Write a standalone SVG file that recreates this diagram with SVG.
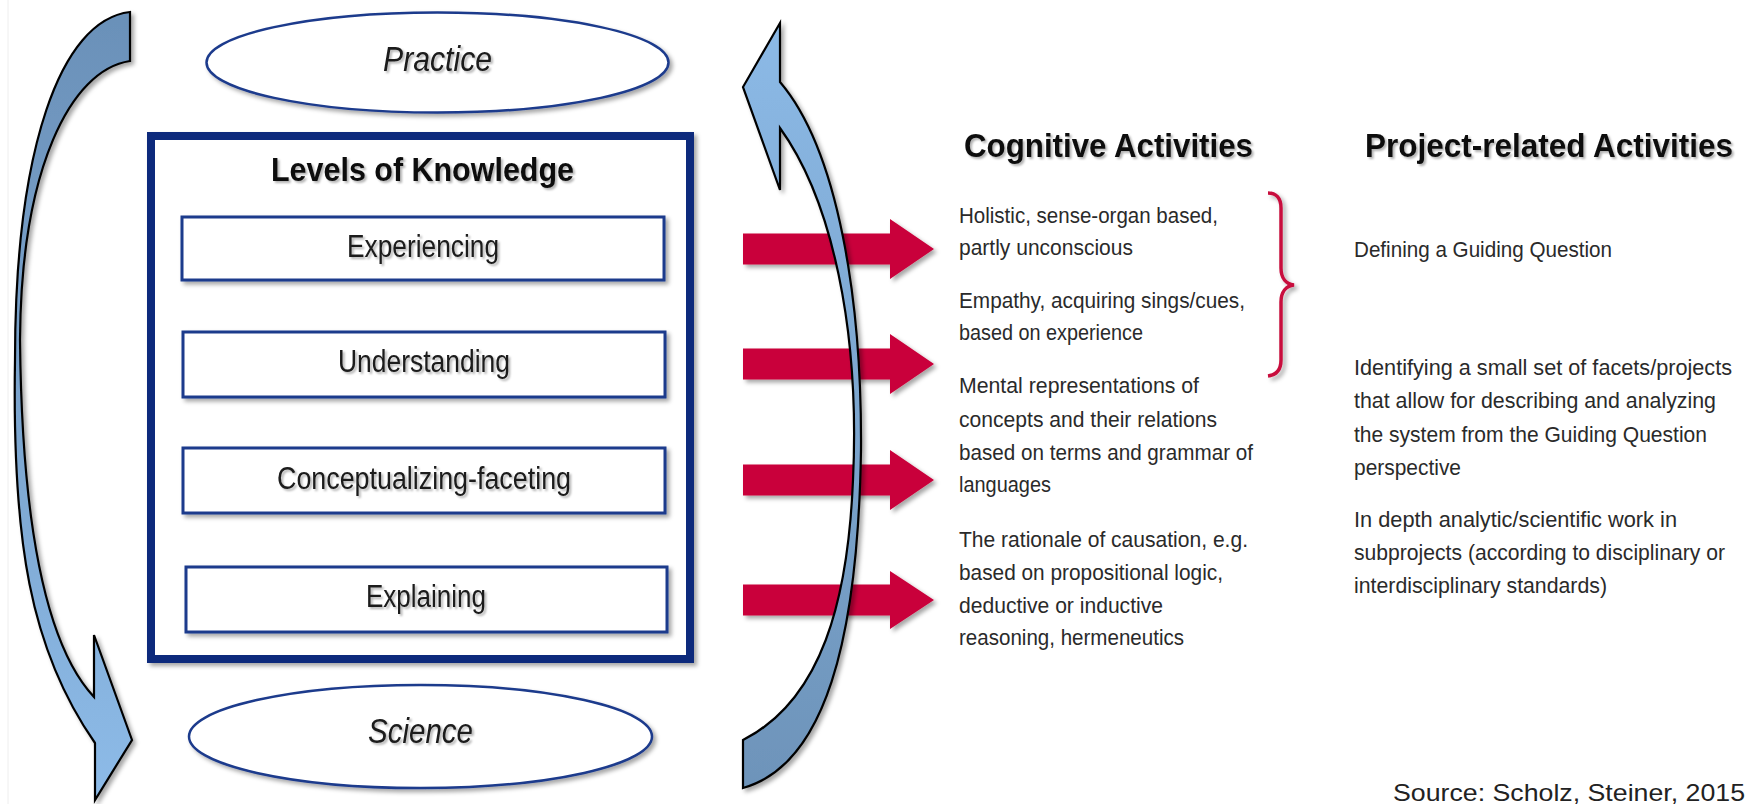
<svg xmlns="http://www.w3.org/2000/svg" width="1750" height="804" viewBox="0 0 1750 804">
<defs>
<style>
.c{font-family:'Liberation Sans Narrow','Liberation Sans',Arial,sans-serif;}
.h{font-weight:bold;font-size:32.5px;fill:#111;}
.lbl{font-size:31px;fill:#1a1a1a;}
.it{font-style:italic;font-size:35px;fill:#1a1a1a;}
.t{font-size:22.5px;fill:#2a2a2a;}
.box{fill:#fff;stroke:#1c3a8c;stroke-width:3;}
.ell{fill:#fff;stroke:#1c3a8c;stroke-width:2.5;}
.red{fill:#c9003a;}
.arc{stroke:#000;stroke-width:2.2;stroke-linejoin:miter;}
.src{font-family:'Liberation Sans',Arial,sans-serif;font-size:24px;fill:#222;}
</style>
<filter id="sh" x="-10%" y="-10%" width="130%" height="130%"><feDropShadow dx="3" dy="3" stdDeviation="2" flood-color="#000" flood-opacity="0.35"/></filter>
<filter id="tsh" x="-5%" y="-20%" width="115%" height="150%"><feDropShadow dx="2" dy="2" stdDeviation="1.2" flood-color="#000" flood-opacity="0.3"/></filter>
<linearGradient id="gl" gradientUnits="userSpaceOnUse" x1="0" y1="0" x2="0" y2="800"><stop offset="0" stop-color="#6a90b8"/><stop offset="0.5" stop-color="#7ba4cd"/><stop offset="1" stop-color="#8dbbe8"/></linearGradient>
<linearGradient id="gr" gradientUnits="userSpaceOnUse" x1="0" y1="800" x2="0" y2="0"><stop offset="0" stop-color="#6d93b9"/><stop offset="0.5" stop-color="#7ca6cf"/><stop offset="1" stop-color="#8dbbe8"/></linearGradient>
</defs>
<rect x="0" y="0" width="1750" height="804" fill="#fff"/>
<line x1="8" y1="0" x2="8" y2="804" stroke="#eeeeee" stroke-width="1"/>

<g id="practice">
<ellipse class="ell" cx="437.5" cy="62.5" rx="231" ry="50" filter="url(#sh)"/>
<text class="c it" x="383" y="71" textLength="109" lengthAdjust="spacingAndGlyphs" filter="url(#tsh)">Practice</text>
</g>

<g id="levels">
<rect x="151" y="136" width="539" height="523" fill="#fff" stroke="#0b2c7c" stroke-width="8" filter="url(#sh)"/>
<text class="c h" x="271" y="181" textLength="303" lengthAdjust="spacingAndGlyphs" filter="url(#tsh)" style="font-size:34px">Levels of Knowledge</text>
</g>
<g id="experiencing">
<rect class="box" x="182" y="217" width="482" height="63" filter="url(#sh)"/>
<text class="c lbl" x="347" y="257" textLength="152" lengthAdjust="spacingAndGlyphs" filter="url(#tsh)">Experiencing</text>
</g>
<g id="understanding">
<rect class="box" x="183" y="332" width="482" height="65" filter="url(#sh)"/>
<text class="c lbl" x="338" y="372" textLength="172" lengthAdjust="spacingAndGlyphs" filter="url(#tsh)">Understanding</text>
</g>
<g id="conceptualizing">
<rect class="box" x="183" y="448" width="482" height="65" filter="url(#sh)"/>
<text class="c lbl" x="277" y="489" textLength="294" lengthAdjust="spacingAndGlyphs" filter="url(#tsh)">Conceptualizing-faceting</text>
</g>
<g id="explaining">
<rect class="box" x="186" y="567" width="481" height="65" filter="url(#sh)"/>
<text class="c lbl" x="366" y="607" textLength="120" lengthAdjust="spacingAndGlyphs" filter="url(#tsh)">Explaining</text>
</g>

<g id="science">
<ellipse class="ell" cx="420.5" cy="736.5" rx="231.5" ry="51.5" filter="url(#sh)"/>
<text class="c it" x="368" y="743" textLength="105" lengthAdjust="spacingAndGlyphs" filter="url(#tsh)">Science</text>
</g>

<g id="cognitive">
<text class="c h" x="964" y="157" textLength="289" lengthAdjust="spacingAndGlyphs" filter="url(#tsh)">Cognitive Activities</text>
<text class="c t" x="959" y="223" textLength="259" lengthAdjust="spacingAndGlyphs">Holistic, sense-organ based,</text>
<text class="c t" x="959" y="255" textLength="174" lengthAdjust="spacingAndGlyphs">partly unconscious</text>
<text class="c t" x="959" y="308" textLength="286" lengthAdjust="spacingAndGlyphs">Empathy, acquiring sings/cues,</text>
<text class="c t" x="959" y="340" textLength="184" lengthAdjust="spacingAndGlyphs">based on experience</text>
<text class="c t" x="959" y="393" textLength="240" lengthAdjust="spacingAndGlyphs">Mental representations of</text>
<text class="c t" x="959" y="427" textLength="258" lengthAdjust="spacingAndGlyphs">concepts and their relations</text>
<text class="c t" x="959" y="460" textLength="294" lengthAdjust="spacingAndGlyphs">based on terms and grammar of</text>
<text class="c t" x="959" y="492" textLength="92" lengthAdjust="spacingAndGlyphs">languages</text>
<text class="c t" x="959" y="547" textLength="289" lengthAdjust="spacingAndGlyphs">The rationale of causation, e.g.</text>
<text class="c t" x="959" y="580" textLength="264" lengthAdjust="spacingAndGlyphs">based on propositional logic,</text>
<text class="c t" x="959" y="613" textLength="204" lengthAdjust="spacingAndGlyphs">deductive or inductive</text>
<text class="c t" x="959" y="645" textLength="225" lengthAdjust="spacingAndGlyphs">reasoning, hermeneutics</text>
</g>

<g id="project">
<text class="c h" x="1365" y="157" textLength="368" lengthAdjust="spacingAndGlyphs" filter="url(#tsh)">Project-related Activities</text>
<text class="c t" x="1354" y="257" textLength="258" lengthAdjust="spacingAndGlyphs">Defining a Guiding Question</text>
<text class="c t" x="1354" y="375" textLength="378" lengthAdjust="spacingAndGlyphs">Identifying a small set of facets/projects</text>
<text class="c t" x="1354" y="408" textLength="362" lengthAdjust="spacingAndGlyphs">that allow for describing and analyzing</text>
<text class="c t" x="1354" y="442" textLength="353" lengthAdjust="spacingAndGlyphs">the system from the Guiding Question</text>
<text class="c t" x="1354" y="475" textLength="107" lengthAdjust="spacingAndGlyphs">perspective</text>
<text class="c t" x="1354" y="527" textLength="323" lengthAdjust="spacingAndGlyphs">In depth analytic/scientific work in</text>
<text class="c t" x="1354" y="560" textLength="371" lengthAdjust="spacingAndGlyphs">subprojects (according to disciplinary or</text>
<text class="c t" x="1354" y="593" textLength="253" lengthAdjust="spacingAndGlyphs">interdisciplinary standards)</text>
</g>

<g id="source">
<text class="src" x="1393" y="801" textLength="352" lengthAdjust="spacingAndGlyphs">Source: Scholz, Steiner, 2015</text>
</g>

<g id="connectors">
<g filter="url(#sh)">
<polygon class="red" points="743,233.5 890,233.5 890,219 934,249 890,279 890,264.5 743,264.5"/>
<polygon class="red" points="743,348.5 890,348.5 890,334 934,364 890,394 890,379.5 743,379.5"/>
<polygon class="red" points="743,464.5 890,464.5 890,450 934,480 890,510 890,495.5 743,495.5"/>
<polygon class="red" points="743,584.5 890,584.5 890,571 934,600 890,629 890,615.5 743,615.5"/>
</g>
<path class="arc" fill="url(#gl)" filter="url(#sh)" d="M130,12 C60,20 15,150 15,360 C12,540 30,650 95,743 L95,800 L132,740 L94,635 L94,697 C50,650 22,540 20,340 C21,170 70,70 130,61 Z"/>
<path class="arc" fill="url(#gr)" filter="url(#sh)" d="M780,23 L743,87 L780,190 L780,128 C832,200 860,330 853,480 C848,600 822,700 743,740 L743,788 C825,765 858,640 861,450 C862,300 838,150 780,82 Z"/>
<path fill="none" stroke="#c8103e" stroke-width="3.5" filter="url(#sh)" d="M1268,193 C1276,193 1281,198 1281,208 L1281,268 C1281,278 1286,284 1294,285 C1286,286 1281,292 1281,302 L1281,360 C1281,370 1276,375 1268,376"/>
</g>
</svg>
